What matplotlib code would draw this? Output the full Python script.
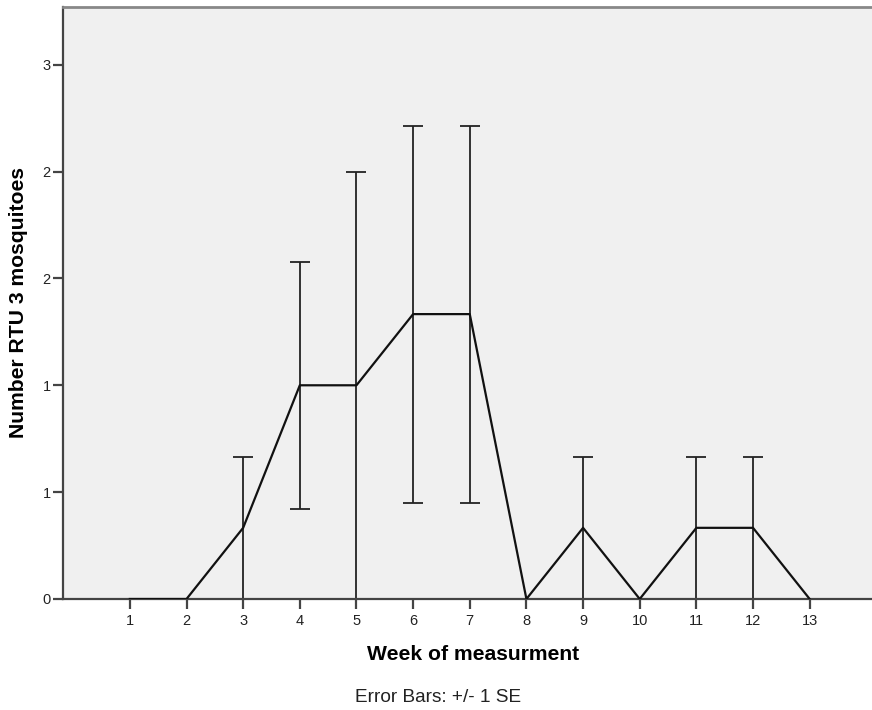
import matplotlib.pyplot as plt

plt.rcParams['font.family'] = ['Liberation Sans', 'DejaVu Sans']

# Mean number of RTU 3 mosquitoes per week, with +/- 1 SE
weeks = [1, 2, 3, 4, 5, 6, 7, 8, 9, 10, 11, 12, 13]
mean_count = [0, 0, 0.333, 1.0, 1.0, 1.333, 1.333, 0, 0.333, 0, 0.333, 0.333, 0]
se_count = [0, 0, 0.333, 0.577, 1.0, 0.882, 0.882, 0, 0.333, 0, 0.333, 0.333, 0]

y_ticks = [0, 0.5, 1.0, 1.5, 2.0, 2.5]
y_tick_labels = ['0', '1', '1', '2', '2', '3']

fig = plt.figure(figsize=(8.72, 7.10), dpi=100)
ax = fig.add_axes([63 / 872, 111 / 710, 809 / 872, 592 / 710])
ax.set_facecolor('#f0f0f0')

ax.errorbar(weeks, mean_count, yerr=se_count, fmt='none', ecolor='#222222',
            elinewidth=1.3, capsize=7, capthick=1.3, zorder=2)
ax.plot(weeks, mean_count, color='#111111', linewidth=1.6, zorder=3)

ax.set_xlim(-0.18, 14.1)
ax.set_ylim(0, 2.77)
ax.set_xticks(weeks)
ax.set_xticklabels([str(w) for w in weeks])
ax.set_yticks(y_ticks)
ax.set_yticklabels(y_tick_labels)

ax.spines['right'].set_visible(False)
ax.spines['top'].set_color('#888888')
ax.spines['top'].set_linewidth(2)
for side in ['left', 'bottom']:
    ax.spines[side].set_color('#444444')
    ax.spines[side].set_linewidth(1.6)
ax.tick_params(axis='both', direction='out', length=7, width=1.6,
               color='#444444', labelsize=10.5, labelcolor='#222222')
ax.tick_params(axis='x', pad=4)
ax.tick_params(axis='y', pad=2)

ax.set_xlabel('Week of measurment', fontsize=15.2, fontweight='bold', va='center')
ax.xaxis.set_label_coords((473 - 63) / 809, -55 / 592)
ax.set_ylabel('Number RTU 3 mosquitoes', fontsize=15.2, fontweight='bold', va='center')
ax.yaxis.set_label_coords(-44.5 / 809, 0.5)

fig.text(438.5 / 872, 1 - 697 / 710, 'Error Bars: +/- 1 SE', ha='center', va='center',
         fontsize=13.7, color='#222222')

fig.savefig('out.png', dpi=100)
